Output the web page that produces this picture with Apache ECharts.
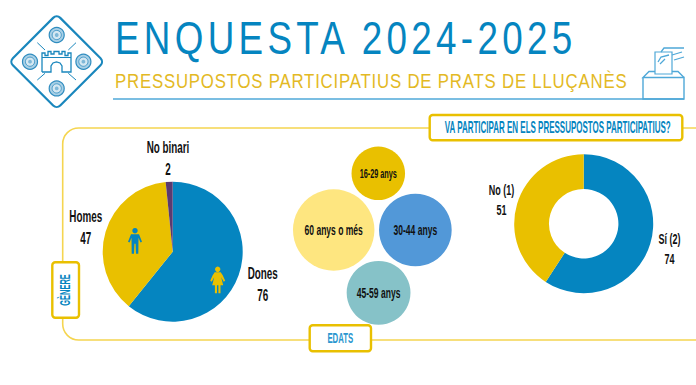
<!DOCTYPE html>
<html>
<head>
<meta charset="utf-8">
<style>
  html, body { margin: 0; background: #fff; }
  #chart { width: 696px; height: 385px; }
  /* the svg renderer keeps text as <text>, so the header can be spaced out from css */
  text[style*="46px"] { letter-spacing: 5.4px; }
  text[style*="21px"] { letter-spacing: 1px; }
</style>
<script src="https://cdn.jsdelivr.net/npm/echarts@6/dist/echarts.min.js"></script>
</head>
<body>
<div id="chart"></div>
<script>
const genderNames = ['Dones', 'Homes', 'No binari'];
const genderValues = [76, 47, 2];
const ageNames = ['60 anys o més', '30-44 anys', '16-29 anys', '45-59 anys'];
const ageValues = [44, 35, 19, 27];
const voteNames = ['Sí (2)', 'No (1)'];
const voteValues = [74, 51];

const BLUE = '#0585c0';
const YELLOW = '#e9c000';
const PURPLE = '#5a3a70';
const FRAME = '#f5d550';
const LINE = '#4fa8d8';
const INK = '#111';
const NARROW = 'Liberation Sans';

// bubbles are area-scaled, then packed: two side by side, one above, one below
const BUBBLE_K = 6.14;
const BUBBLE_GAP = 4.6;
function packBubbles(values) {
  let r = values.map(v => BUBBLE_K * Math.sqrt(v));
  let a = { x: 333.7, y: 230 };
  let b = { x: a.x + r[0] + r[1] + BUBBLE_GAP, y: 230 };
  let d = b.x - a.x;
  function touching(rc, side) {
    let ra = r[0] + rc + BUBBLE_GAP;
    let rb = r[1] + rc + BUBBLE_GAP;
    let dx = (d * d + ra * ra - rb * rb) / (2 * d);
    return { x: a.x + dx, y: a.y + side * Math.sqrt(ra * ra - dx * dx) };
  }
  return [a, b, touching(r[2], -1), touching(r[3], 1)];
}
const agePositions = packBubbles(ageValues);
const ageColors = ['#fee680', '#5298d8', YELLOW, '#86c2c8'];

function label(text, x, y, size, scaleX, fill, extra) {
  return Object.assign({
    type: 'text',
    x: x,
    y: y,
    scaleX: scaleX,
    style: {
      text: text,
      font: 'bold ' + size + 'px ' + NARROW,
      fill: fill || INK,
      align: 'center',
      verticalAlign: 'middle',
      lineHeight: size >= 17 ? 22 : 20
    }
  }, extra);
}

function line(points, color, width) {
  return {
    type: 'polyline',
    shape: { points: points },
    style: { stroke: color, lineWidth: width, fill: null }
  };
}

function tagBox(x, y, w, h) {
  return {
    type: 'rect',
    shape: { x: x, y: y, width: w, height: h, r: 3 },
    style: { fill: '#fff', stroke: YELLOW, lineWidth: 2.4 }
  };
}

function rose(x, y) {
  return {
    type: 'group',
    x: x,
    y: y,
    children: [
      { type: 'circle', shape: { r: 7.5 }, style: { fill: '#a9d0e6', stroke: '#2f8cbf', lineWidth: 1.2 } },
      { type: 'circle', shape: { r: 4.6 }, style: { fill: '#d5e8f2', stroke: '#2f8cbf', lineWidth: 0.8 } },
      { type: 'circle', shape: { r: 1.9 }, style: { fill: '#7fb8d8' } }
    ]
  };
}

function logo() {
  let thin = '#1a87bd';
  return {
    type: 'group',
    children: [
      { type: 'rect', x: 56.7, y: 61.7, rotation: Math.PI / 4,
        shape: { x: -33.5, y: -33.5, width: 67, height: 67, r: 5 },
        style: { fill: '#fff', stroke: thin, lineWidth: 2.2 } },
      rose(56.7, 35), rose(30, 61.7), rose(83.4, 61.7), rose(56.7, 88.4),
      line([[37.3, 42.7], [45, 50]], thin, 1),
      line([[76, 42.7], [68.3, 50]], thin, 1),
      line([[37.3, 80], [45, 73.3]], thin, 1),
      line([[76, 80], [68.3, 73.3]], thin, 1),
      line([[42, 72], [42, 53], [45, 53], [45, 55.5], [48, 55.5], [48, 51.5], [51, 51.5], [51, 54], [54, 54], [54, 51.5],
        [59, 51.5], [59, 54], [62, 54], [62, 51.5], [65, 51.5], [65, 55.5], [68, 55.5], [68, 53], [71, 53], [71, 72],
        [62, 72], [62, 66], [60, 63], [56.5, 62], [53, 63], [51, 66], [51, 72], [42, 72]], thin, 1.3),
      line([[42, 57.5], [71, 57.5]], thin, 1)
    ]
  };
}

function ballot() {
  return {
    type: 'group',
    children: [
      line([[643, 77.5], [643, 99], [684, 99], [684, 77.5], [643, 77.5], [649, 71.5], [655, 71.5]], LINE, 1.4),
      line([[672, 71.5], [678, 71.5], [684, 77.5]], LINE, 1.4),
      { type: 'rect', shape: { x: 655, y: 52, width: 17, height: 22 }, style: { fill: '#fff', stroke: LINE, lineWidth: 1.2 } },
      line([[661, 52], [664, 48], [684, 48]], LINE, 1.3),
      line([[658, 62], [661, 57], [669, 55]], LINE, 1.3),
      line([[660, 64], [665, 59]], LINE, 1.3),
      line([[674, 60], [684, 57]], LINE, 1.3),
      line([[672, 55], [682, 52]], LINE, 1.3)
    ]
  };
}

// the icons sit on top of the pie slices, so they need a z above the series
function man(x, y, color) {
  return {
    type: 'group',
    x: x,
    y: y,
    children: [
      { type: 'circle', z: 10, shape: { cx: 0, cy: 0, r: 2.7 }, style: { fill: color } },
      { type: 'polygon', z: 10,
        shape: { points: [[-4, 3.5], [4, 3.5], [7, 11], [5.5, 11.7], [3.5, 7], [3.3, 23], [1, 23], [0.6, 13], [-0.6, 13], [-1, 23], [-3.3, 23], [-3.5, 7], [-5.5, 11.7], [-7, 11]] },
        style: { fill: color } }
    ]
  };
}

function woman(x, y, color) {
  return {
    type: 'group',
    x: x,
    y: y,
    children: [
      { type: 'circle', z: 10, shape: { cx: 0, cy: 0, r: 2.7 }, style: { fill: color } },
      { type: 'polygon', z: 10,
        shape: { points: [[-3, 3], [3, 3], [5, 6], [7.5, 11.5], [6, 12.5], [3.5, 8], [5.5, 16], [2.8, 16], [2.8, 24], [0.7, 24], [0.7, 16], [-0.7, 16], [-0.7, 24], [-2.8, 24], [-2.8, 16], [-5.5, 16], [-3.5, 8], [-6, 12.5], [-7.5, 11.5], [-5, 6]] },
        style: { fill: color } }
    ]
  };
}

function header(text, x, y, size, scaleX, fill) {
  return {
    type: 'text',
    x: x,
    y: y,
    scaleX: scaleX,
    style: {
      text: text,
      font: size + 'px ' + NARROW,
      fill: fill,
      align: 'left',
      verticalAlign: 'middle'
    }
  };
}

let chart = echarts.init(document.getElementById('chart'), null, { renderer: 'svg' });

let option = {
  animation: false,
  backgroundColor: '#fff',
  grid: { left: 0, top: 0, width: 696, height: 385, show: false },
  xAxis: { type: 'value', min: 0, max: 696, show: false },
  yAxis: { type: 'value', min: 0, max: 385, inverse: true, show: false },
  series: [
    {
      type: 'pie',
      center: [172.7, 251.7],
      radius: [0, 70],
      startAngle: 90,
      label: { show: false },
      labelLine: { show: false },
      color: [BLUE, YELLOW, PURPLE],
      data: genderNames.map((name, i) => ({ name: name, value: genderValues[i] }))
    },
    {
      type: 'pie',
      center: [583.7, 223.7],
      radius: [34.7, 69.5],
      startAngle: 90,
      label: { show: false },
      labelLine: { show: false },
      color: [BLUE, YELLOW],
      data: voteNames.map((name, i) => ({ name: name, value: voteValues[i] }))
    },
    {
      type: 'custom',
      coordinateSystem: 'cartesian2d',
      data: ageNames.map((name, i) => [agePositions[i].x, agePositions[i].y, ageValues[i]]),
      renderItem: function (params, api) {
        let p = api.coord([api.value(0), api.value(1)]);
        let i = params.dataIndex;
        let r = BUBBLE_K * Math.sqrt(api.value(2));
        return {
          type: 'group',
          children: [
            {
              type: 'circle',
              shape: { cx: p[0], cy: p[1], r: r },
              style: { fill: ageColors[i] }
            },
            {
              type: 'text',
              x: p[0],
              y: p[1],
              scaleX: r < 30 ? 0.56 : 0.61,
              style: { text: ageNames[i], font: 'bold ' + (r < 30 ? 13 : 14) + 'px ' + NARROW, fill: INK, align: 'center', verticalAlign: 'middle' }
            }
          ]
        };
      }
    }
  ],
  graphic: [
    logo(),
    header('ENQUESTA 2024-2025', 115, 38, 46, 0.8, BLUE),
    header('PRESSUPOSTOS PARTICIPATIUS DE PRATS DE LLUÇANÈS', 115, 81, 21, 0.8, '#e3b924'),
    line([[113, 99], [684, 99]], LINE, 1.6),
    ballot(),
    {
      type: 'rect',
      shape: { x: 62.7, y: 128, width: 680, height: 212, r: 16 },
      style: { fill: null, stroke: FRAME, lineWidth: 1.6 }
    },
    tagBox(429.7, 115, 252.6, 25.3),
    label('VA PARTICIPAR EN ELS PRESSUPOSTOS PARTICIPATIUS?', 557.7, 128, 16, 0.5, BLUE),
    tagBox(52.3, 262.3, 26.7, 55.4),
    label('GÈNERE', 65, 290, 15, 0.5, BLUE, { rotation: Math.PI / 2 }),
    tagBox(309.7, 325.3, 61.3, 26),
    label('EDATS', 340.3, 337.7, 15, 0.52, '#2a96cf'),
    label(genderNames[0] + '\n' + genderValues[0], 262.7, 283.5, 17, 0.58),
    label(genderNames[1] + '\n' + genderValues[1], 85.7, 226.5, 17, 0.58),
    label(genderNames[2] + '\n' + genderValues[2], 168, 158, 17, 0.58),
    label(voteNames[0] + '\n' + voteValues[0], 669.5, 249.5, 15, 0.6),
    label(voteNames[1] + '\n' + voteValues[1], 501.5, 200, 15, 0.6),
    man(135, 230.7, BLUE),
    woman(217.7, 269.3, YELLOW)
  ]
};

chart.setOption(option);
</script>
</body>
</html>
